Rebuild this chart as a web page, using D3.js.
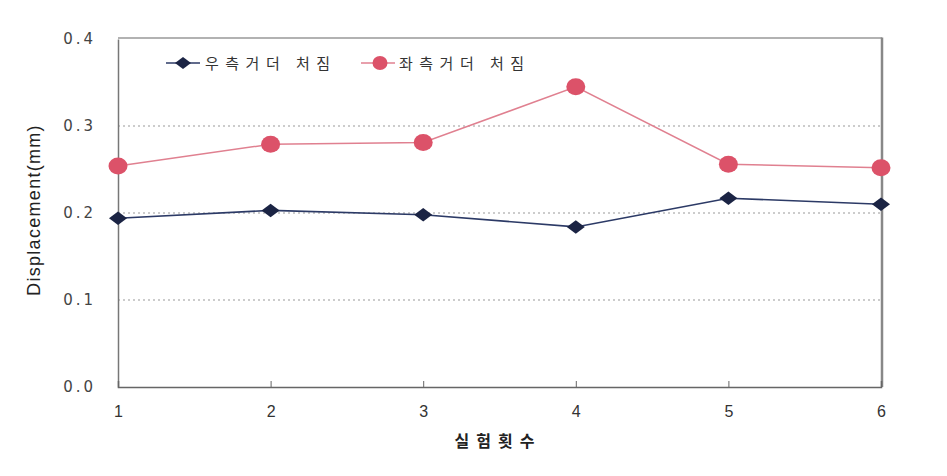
<!DOCTYPE html>
<html><head><meta charset="utf-8">
<script src="https://cdn.jsdelivr.net/npm/d3@7"></script>
<style>body{margin:0;background:#fff;}svg{display:block;}</style>
</head><body>
<svg id="c" width="947" height="476"></svg>
<script>
const categories = [1, 2, 3, 4, 5, 6];
const rightGirder = [0.194, 0.203, 0.198, 0.184, 0.217, 0.210];
const leftGirder  = [0.254, 0.279, 0.281, 0.345, 0.256, 0.252];
const yTicks = [0.0, 0.1, 0.2, 0.3, 0.4];
const seriesNames = ["우측거더 처짐", "좌측거더 처짐"];

const svg = d3.select("#c");
const m = {l: 118, r: 881, t: 39, b: 387};
const x = d3.scalePoint().domain(categories).range([m.l, m.r]);
const y = d3.scaleLinear().domain([0, 0.4]).range([m.b, m.t]);
const font = "'Noto Sans CJK KR', 'Liberation Sans', sans-serif";

const wideDiamond = {
  draw(ctx, size) {
    const w = Math.sqrt(size / 1.5), h = w * 0.75;
    ctx.moveTo(0, -h); ctx.lineTo(w, 0); ctx.lineTo(0, h); ctx.lineTo(-w, 0); ctx.closePath();
  }
};

// gridlines
svg.append("g").selectAll("line").data(yTicks.filter(d => d > 0 && d < 0.4)).join("line")
  .attr("x1", m.l).attr("x2", m.r).attr("y1", d => y(d)).attr("y2", d => y(d))
  .attr("stroke", "#999").attr("stroke-width", 1).attr("stroke-dasharray", "2,3");

// frame
svg.append("line").attr("x1", m.l).attr("x2", m.r + 1).attr("y1", y(0.4) - 1).attr("y2", y(0.4) - 1).attr("stroke", "#999").attr("stroke-width", 1.5);
svg.append("line").attr("x1", m.r + 1).attr("x2", m.r + 1).attr("y1", y(0.4) - 1.5).attr("y2", m.b).attr("stroke", "#888").attr("stroke-width", 2.5);

// y axis
const yAxis = d3.axisLeft(y).tickValues(yTicks).tickFormat(d3.format(".1f")).tickSize(0).tickPadding(22);
const gy = svg.append("g").attr("transform", `translate(${m.l},0)`).call(yAxis);
gy.select(".domain").attr("stroke", "#777").attr("stroke-width", 1.5);
gy.selectAll("text").attr("font-family", "'DejaVu Sans', sans-serif").attr("font-size", 15).attr("fill", "#444").attr("letter-spacing", "3px");

// x axis
const xAxis = d3.axisBottom(x).tickSize(-6).tickPadding(19);
const gx = svg.append("g").attr("transform", `translate(0,${m.b})`).call(xAxis);
gx.select(".domain").attr("stroke", "#666").attr("stroke-width", 1.5);
gx.selectAll(".tick line").attr("stroke", "#666");
gx.selectAll("text").attr("font-family", "'Liberation Sans Narrow', 'Liberation Sans', sans-serif").attr("font-size", 16).attr("fill", "#333");

// axis titles
svg.append("text").attr("transform", "translate(40,210) rotate(-90)").attr("text-anchor", "middle")
  .attr("font-family", "'Liberation Sans', Arial, sans-serif").attr("font-size", 18).attr("fill", "#222")
  .attr("letter-spacing", "1.3px").text("Displacement(mm)");
svg.append("text").attr("x", 498).attr("y", 447).attr("text-anchor", "middle")
  .attr("font-family", font).attr("font-size", 16).attr("font-weight", "bold").attr("fill", "#222")
  .attr("letter-spacing", "7px").text("실험횟수");

const blue = "#1b2444", blueLine = "#2c3a66";
const pink = "#dc5269", pinkLine = "#e08090";
const line = d3.line().x((d, i) => x(categories[i])).y(d => y(d));
const diamond = d3.symbol().type(wideDiamond).size(1.5 * 81);

// pink series
svg.append("path").datum(leftGirder).attr("d", line).attr("fill", "none").attr("stroke", pinkLine).attr("stroke-width", 1.5);
svg.append("g").selectAll("ellipse").data(leftGirder).join("ellipse")
  .attr("cx", (d, i) => x(categories[i])).attr("cy", d => y(d)).attr("rx", 9.5).attr("ry", 8.5).attr("fill", pink);

// blue series
svg.append("path").datum(rightGirder).attr("d", line).attr("fill", "none").attr("stroke", blueLine).attr("stroke-width", 1.6);
svg.append("g").selectAll("path.d").data(rightGirder).join("path")
  .attr("transform", (d, i) => `translate(${x(categories[i])},${y(d)})`).attr("d", diamond).attr("fill", blue);

// legend
const legendDiamond = d3.symbol().type(wideDiamond).size(1.5 * 64);
const lg = svg.append("g");
lg.append("line").attr("x1", 166).attr("x2", 200).attr("y1", 63).attr("y2", 63).attr("stroke", blueLine).attr("stroke-width", 1.5);
lg.append("path").attr("transform", "translate(183,63)").attr("d", legendDiamond).attr("fill", blue);
lg.append("text").attr("x", 205).attr("y", 69).attr("font-family", font).attr("font-size", 15).attr("fill", "#333")
  .attr("letter-spacing", "6.5px").text(seriesNames[0]);
lg.append("line").attr("x1", 361).attr("x2", 395).attr("y1", 63).attr("y2", 63).attr("stroke", pinkLine).attr("stroke-width", 1.5);
lg.append("ellipse").attr("cx", 380).attr("cy", 63).attr("rx", 7.5).attr("ry", 7).attr("fill", pink);
lg.append("text").attr("x", 399).attr("y", 69).attr("font-family", font).attr("font-size", 15).attr("fill", "#333")
  .attr("letter-spacing", "6.5px").text(seriesNames[1]);
</script>
</body></html>
